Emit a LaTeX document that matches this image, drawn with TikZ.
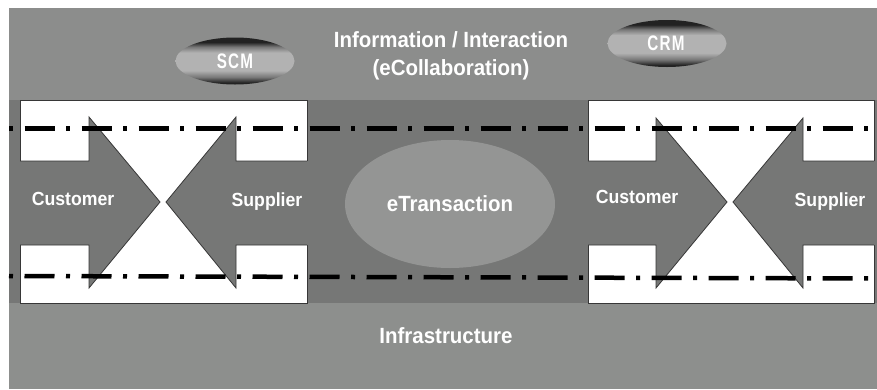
\documentclass[tikz,border=0pt]{standalone}
\usepackage{fontspec}
\usepackage{graphicx}
\setmainfont{Liberation Sans}[FakeStretch=0.93]
\usetikzlibrary{shapes.geometric}

\definecolor{bandlight}{RGB}{140,141,140}
\definecolor{banddark}{RGB}{118,119,118}
\definecolor{bandlow}{RGB}{141,143,141}
\definecolor{transfill}{RGB}{148,149,148}
\definecolor{edgegray}{RGB}{55,55,55}
\definecolor{pilldark}{RGB}{34,34,34}
\definecolor{pillmid}{RGB}{120,120,120}
\definecolor{pilllight}{RGB}{178,178,178}

% pill shading: dark rims at top and bottom, broad light middle
\pgfdeclareverticalshading{pillshade}{100bp}{%
  color(0bp)=(pilldark); color(27bp)=(pilldark); color(33bp)=(pillmid);
  color(40bp)=(pilllight); color(59bp)=(pilllight); color(65bp)=(pillmid);
  color(70bp)=(pilldark); color(100bp)=(pilldark)}

\tikzset{
  lbl/.style={text=white, font=\bfseries\fontsize{19}{22}\selectfont, inner sep=0pt, anchor=base},
  biglbl/.style={text=white, font=\bfseries\fontsize{22}{29}\selectfont, inner sep=0pt, anchor=base},
  pill/.style={ellipse, minimum width=119pt, minimum height=47pt, inner sep=0pt,
    shading=pillshade},
  pilltext/.style={text=white, font=\bfseries\fontsize{21}{22}\selectfont, inner sep=0pt, anchor=base},
  flow/.style={fill=banddark},
  flowedge/.style={draw=edgegray, line width=0.8pt, line join=miter},
  whitezone/.style={fill=white, draw=edgegray, line width=0.8pt},
  dashdot/.style={line width=4.5pt, dash pattern=on 4pt off 11.5pt on 30pt off 11.5pt},
}

\begin{document}
\begin{tikzpicture}[x=1pt, y=-1pt]
  \useasboundingbox (0,0) rectangle (877,389);
  \fill[white] (0,0) rectangle (877,389);

  % three horizontal layers
  \fill[bandlight] (9,8) rectangle (877,100);
  \fill[banddark]  (9,100) rectangle (877,303);
  \fill[bandlow]   (9,303) rectangle (877,389);

  % white zones behind the two partner couples
  \draw[whitezone] (20,100) rectangle (307,303);
  \draw[whitezone] (588,100) rectangle (874,303);

  % left couple: customer arrow and supplier arrow
  \fill[flow] (9,161) -- (89,161) -- (89,117) -- (160,202) -- (89,288) -- (89,245) -- (9,245) -- cycle;
  \draw[flowedge] (20,161) -- (89,161) -- (89,117) -- (160,202) -- (89,288) -- (89,245) -- (20,245);
  \fill[flow] (318,161) -- (236,161) -- (236,117) -- (166,202) -- (236,288) -- (236,245) -- (318,245) -- cycle;
  \draw[flowedge] (307,161) -- (236,161) -- (236,117) -- (166,202) -- (236,288) -- (236,245) -- (307,245);

  % right couple
  \fill[flow] (577,161) -- (656,161) -- (656,118) -- (727,202) -- (656,288) -- (656,245) -- (577,245) -- cycle;
  \draw[flowedge] (588,161) -- (656,161) -- (656,118) -- (727,202) -- (656,288) -- (656,245) -- (588,245);
  \fill[flow] (877,161) -- (803,161) -- (803,118) -- (733,202) -- (803,288) -- (803,245) -- (877,245) -- cycle;
  \draw[flowedge] (874,161) -- (803,161) -- (803,118) -- (733,202) -- (803,288) -- (803,245) -- (874,245);

  % transaction core
  \node[ellipse, fill=transfill, minimum width=210pt, minimum height=128pt, inner sep=0pt,
        text=white, font=\bfseries\fontsize{22}{26}\selectfont] (etrans) at (450,204) {eTransaction};

  % process boundaries
  \coordinate (topL) at (9,128.5);
  \coordinate (topR) at (877,128.5);
  \coordinate (botL) at (9,276);
  \coordinate (botR) at (877,278.5);
  \draw[dashdot] (topL) -- (topR);
  \draw[dashdot] (botL) -- (botR);

  % collaboration layer
  \node[pill] (scm) at (235,61) {};
  \node[pilltext] (scmtext) at (235,68) {\scalebox{0.78}[1]{S\kern1.5pt C\kern1.5pt M}};
  \node[pill] (crm) at (667,43.5) {};
  \node[pilltext] (crmtext) at (666,50.5) {\scalebox{0.78}[1]{C\kern1.5pt R\kern1.5pt M}};
  \node[biglbl] (info)   at (451,47) {Information / Interaction};
  \node[biglbl] (collab) at (451,75) {(eCollaboration)};

  % partner labels
  \node[lbl] (cust1) at (73,205)   {Customer};
  \node[lbl] (supp1) at (267,206)  {Supplier};
  \node[lbl] (cust2) at (637,203.5){Customer};
  \node[lbl] (supp2) at (830,206.5){Supplier};

  % infrastructure layer
  \node[biglbl] (infra) at (446,343) {Infrastructure};
\end{tikzpicture}
\end{document}
